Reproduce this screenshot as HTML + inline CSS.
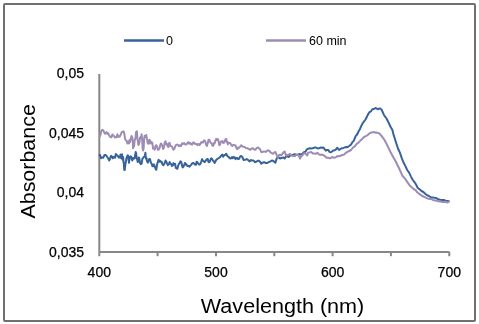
<!DOCTYPE html>
<html><head><meta charset="utf-8"><style>
html,body{margin:0;padding:0;background:#fff;width:479px;height:324px;overflow:hidden}
svg{display:block;filter:blur(0.3px)}
.lb text{stroke:#000;stroke-width:0.25px}
text{font-family:"Liberation Sans",sans-serif;fill:#000}
</style></head><body>
<svg width="479" height="324" viewBox="0 0 479 324">
<rect x="4" y="4" width="471" height="317" fill="#fff" stroke="#707070" stroke-width="2" rx="1"/>
<g stroke="#878787" stroke-width="2" fill="none">
<line x1="99.3" y1="74" x2="99.3" y2="252"/>
<line x1="99.3" y1="252" x2="449.5" y2="252"/>
<line x1="99.3" y1="252" x2="99.3" y2="256.2"/><line x1="157.6" y1="252" x2="157.6" y2="256.2"/><line x1="216.0" y1="252" x2="216.0" y2="256.2"/><line x1="274.3" y1="252" x2="274.3" y2="256.2"/><line x1="332.6" y1="252" x2="332.6" y2="256.2"/><line x1="390.9" y1="252" x2="390.9" y2="256.2"/><line x1="449.3" y1="252" x2="449.3" y2="256.2"/>
</g>
<polyline points="99.0,155.9 100.0,154.9 101.0,158.3 102.0,157.4 103.3,157.7 104.5,154.9 105.8,155.1 106.6,156.1 107.3,157.0 108.1,158.2 108.6,159.3 109.2,160.4 109.7,159.7 110.5,157.1 111.2,155.8 112.0,156.7 112.8,158.3 113.5,156.9 114.3,157.4 115.1,157.7 115.8,153.9 116.6,155.1 117.6,155.6 118.7,157.5 119.7,157.4 120.5,154.6 121.2,158.2 122.0,154.3 122.5,159.7 123.1,157.0 123.6,162.8 123.8,162.1 124.1,167.7 124.3,169.8 124.8,170.0 125.4,163.8 125.9,162.0 126.4,158.2 126.9,157.4 127.4,155.9 127.9,155.2 128.5,158.7 129.0,162.8 129.3,160.4 129.7,158.7 130.0,156.7 130.8,156.3 131.5,157.5 132.3,160.5 133.1,157.9 133.8,158.7 134.6,158.2 135.1,155.3 135.7,152.1 136.2,153.6 136.7,158.6 137.2,159.6 137.7,162.0 138.2,161.6 138.8,157.5 139.3,158.2 140.1,163.2 140.8,164.1 141.6,163.6 142.4,158.9 143.1,157.9 143.9,156.7 144.4,156.8 144.9,155.5 145.4,152.8 145.9,158.4 146.5,158.0 147.0,161.3 147.8,162.6 148.5,160.9 149.3,159.0 150.1,159.3 150.8,162.6 151.6,163.6 152.4,166.3 153.1,166.3 153.9,164.4 154.7,166.2 155.5,168.6 156.3,169.8 157.1,164.6 157.8,162.0 158.6,159.7 159.4,161.7 160.1,160.9 160.9,162.0 161.7,161.8 162.4,164.3 163.2,165.2 164.0,164.4 164.7,162.8 165.5,160.5 166.3,161.6 167.0,163.4 167.8,165.2 168.4,164.2 169.0,164.2 169.6,162.0 170.4,163.4 171.2,164.2 172.0,166.0 172.8,165.4 173.5,163.1 174.3,164.4 175.1,163.9 175.8,167.8 176.6,168.3 177.4,168.8 178.1,165.8 178.9,164.0 179.7,162.9 180.4,161.3 181.2,161.9 181.7,163.7 182.3,166.7 182.8,167.4 183.6,166.5 184.3,164.5 185.1,162.9 185.9,164.8 186.6,164.4 187.4,166.1 188.4,165.9 189.5,166.7 190.5,165.3 191.3,164.7 192.0,163.6 192.8,162.9 193.6,162.9 194.3,164.1 195.1,164.5 195.9,164.8 196.6,161.8 197.4,162.2 198.2,163.6 198.9,164.5 199.7,164.5 200.5,163.6 201.3,161.5 202.1,159.1 202.9,160.9 203.8,161.2 204.6,162.2 205.4,161.3 206.2,160.0 207.0,159.1 207.8,159.1 208.5,162.1 209.3,162.2 210.1,161.1 210.8,158.9 211.6,158.3 212.6,159.8 213.7,161.3 214.7,162.9 215.5,161.3 216.2,160.0 217.0,159.1 217.8,158.7 218.5,158.4 219.3,157.6 220.1,157.1 220.8,155.9 221.6,155.2 222.1,154.6 222.7,155.6 223.2,156.8 224.2,155.0 225.3,154.9 226.3,153.7 227.1,155.6 227.8,156.5 228.6,156.8 229.4,158.0 230.1,158.6 230.9,158.3 231.7,157.2 232.4,158.1 233.2,156.8 234.0,158.0 234.7,157.3 235.5,159.1 236.4,157.9 237.2,157.9 238.1,159.1 239.1,158.7 240.2,156.4 241.2,156.0 242.3,157.0 243.5,159.9 245.1,159.8 246.6,159.1 248.1,159.9 249.7,161.4 250.8,160.0 252.0,160.6 253.6,160.6 255.1,162.2 256.6,161.5 258.2,160.6 259.8,161.4 261.3,163.7 262.8,162.4 264.3,162.2 265.9,163.1 267.4,162.9 268.9,162.0 270.5,161.4 271.8,160.6 273.1,160.7 274.2,161.7 275.4,162.8 276.5,158.9 277.7,157.2 278.9,157.6 280.0,158.6 281.2,158.0 282.4,157.8 283.5,157.5 284.7,158.6 285.9,156.5 287.0,156.3 288.6,156.9 290.1,155.5 291.6,155.1 293.2,154.7 294.8,154.3 296.3,154.7 297.8,154.5 299.3,154.1 300.9,154.4 302.4,153.9 303.9,152.2 305.5,151.8 306.4,149.8 307.3,149.2 309.2,148.3 311.2,148.4 312.8,148.3 314.3,147.6 315.9,147.5 317.4,148.4 318.9,148.3 320.4,147.6 321.9,147.8 323.5,147.6 324.6,149.2 325.8,150.7 327.0,149.9 328.2,149.9 329.4,151.8 330.5,152.3 331.6,151.9 332.8,150.7 334.4,150.2 335.9,149.6 336.6,148.3 337.4,147.8 338.2,149.1 339.0,149.9 340.6,148.9 342.1,148.2 343.6,147.9 345.0,147.4 346.2,147.0 347.4,147.2 349.2,146.0 351.1,144.4 352.5,141.9 353.9,140.7 354.8,138.1 355.7,136.1 357.1,134.5 358.5,131.5 359.9,129.2 361.3,125.9 362.7,123.3 364.1,121.3 365.5,119.5 366.9,116.7 368.2,114.1 369.6,112.0 371.0,111.3 372.4,109.3 373.9,109.0 375.4,108.0 376.6,108.5 377.9,109.3 379.1,108.6 380.4,108.6 381.6,109.8 382.8,112.3 383.8,114.7 384.7,116.0 386.5,118.5 388.4,122.2 390.4,126.5 392.4,130.0 393.4,134.1 394.3,137.0 396.1,142.8 398.0,148.5 399.9,152.7 401.7,157.8 403.5,162.5 405.4,166.1 407.2,170.0 409.1,172.6 411.0,176.6 412.8,180.0 413.9,181.4 415.0,182.8 416.4,185.2 417.8,188.0 419.6,189.3 421.5,191.0 423.4,192.0 425.2,193.8 427.0,195.1 428.9,196.0 430.3,196.8 431.7,197.8 433.0,197.4 434.4,197.8 436.2,198.0 438.1,199.3 440.0,199.8 441.9,199.9 443.8,200.0 445.6,200.7 447.6,200.9 449.5,201.2" fill="none" stroke="#38639a" stroke-width="2" stroke-linejoin="round"/>
<polyline points="99.0,136.6 99.7,136.6 100.5,134.8 101.2,131.2 102.2,129.9 103.3,130.5 104.3,132.7 105.1,133.8 105.8,133.2 106.6,132.0 107.4,133.7 108.1,133.2 108.9,135.0 109.7,136.2 110.4,137.0 111.2,137.4 111.7,136.9 112.3,134.4 112.8,135.0 113.5,135.5 114.3,136.2 115.0,137.4 115.8,137.3 116.6,137.3 117.4,134.3 118.2,136.9 118.9,136.0 119.7,136.6 120.7,134.7 121.8,132.1 122.8,132.0 123.6,131.3 124.3,133.6 125.1,138.9 125.9,140.2 126.6,140.8 127.4,143.5 128.2,141.5 128.9,143.5 129.7,139.7 129.8,140.6 129.9,141.6 130.0,142.0 130.8,138.8 131.5,135.9 132.3,137.4 132.6,139.9 132.8,142.3 133.1,148.2 133.6,145.7 134.1,146.2 134.6,140.4 135.4,138.5 136.1,132.2 136.9,131.2 137.4,138.3 138.0,142.3 138.5,145.0 139.0,144.0 139.5,142.5 140.0,137.4 140.5,138.0 141.1,137.2 141.6,134.3 142.1,138.8 142.6,148.2 143.1,150.5 143.6,148.6 144.2,138.5 144.7,135.8 145.2,137.2 145.7,136.6 146.2,135.0 146.7,137.6 147.3,140.9 147.8,143.5 148.3,142.2 148.8,143.7 149.3,139.7 150.1,140.5 150.8,143.4 151.6,142.0 152.4,143.1 153.1,148.6 153.9,148.2 154.7,149.7 155.5,145.9 156.3,145.1 157.1,146.9 157.8,149.8 158.6,149.7 159.4,148.5 160.1,145.5 160.9,143.5 161.7,144.2 162.4,146.5 163.2,149.0 164.0,147.2 164.7,142.5 165.5,141.2 166.3,144.6 167.0,143.9 167.8,146.6 168.4,147.0 169.0,143.3 169.6,142.8 170.4,145.9 171.2,146.2 172.0,146.6 172.5,147.7 173.0,148.7 173.5,149.7 174.3,148.8 175.0,147.0 175.8,145.1 176.8,144.7 177.9,144.7 178.9,146.2 179.9,145.3 181.0,146.1 182.0,143.4 183.0,144.0 184.1,143.0 185.1,144.4 186.1,144.4 187.2,143.4 188.2,142.1 189.2,143.8 190.3,142.9 191.3,144.4 192.3,144.5 193.3,142.3 194.3,142.9 195.3,144.0 196.4,143.9 197.4,145.2 198.4,144.0 199.5,145.1 200.5,143.7 201.1,142.2 201.7,142.7 202.3,142.1 203.1,142.4 203.8,140.5 204.6,140.6 205.4,141.7 206.2,145.0 207.0,145.9 207.5,143.7 208.0,142.4 208.5,139.8 209.3,139.7 210.0,141.5 210.8,142.9 211.6,143.1 212.3,145.3 213.1,145.9 213.9,143.1 214.6,143.5 215.4,140.6 216.2,138.9 217.0,140.1 217.8,139.0 218.3,139.9 218.8,142.5 219.3,145.2 220.1,144.7 220.8,141.8 221.6,141.3 222.4,141.1 223.1,142.8 223.9,142.9 224.7,141.3 225.5,139.2 226.3,139.0 226.8,142.0 227.3,141.8 227.8,144.4 228.6,142.8 229.3,143.0 230.1,142.9 230.9,144.2 231.6,145.5 232.4,145.9 233.2,144.7 233.9,145.0 234.7,145.2 235.5,145.4 236.3,147.7 237.1,149.1 237.4,149.2 237.8,148.6 238.1,147.5 239.1,147.7 240.2,146.6 241.2,145.2 242.8,146.8 244.3,146.7 245.9,148.0 247.4,148.3 248.9,149.0 250.4,149.8 251.6,148.4 252.8,148.3 253.9,149.4 255.1,149.8 256.6,148.2 258.2,147.5 259.8,148.9 261.3,152.2 262.8,151.7 264.3,151.4 265.9,151.9 267.4,150.6 268.9,150.5 270.5,152.2 271.8,153.2 273.1,153.8 274.2,152.6 275.4,152.0 276.5,154.6 277.7,157.2 278.9,155.1 280.0,154.7 281.2,155.4 282.4,153.9 283.5,152.2 284.7,151.6 285.4,153.8 286.2,155.5 287.4,154.9 288.5,154.7 290.1,153.9 291.6,155.5 293.1,156.0 294.7,156.3 296.2,155.0 297.8,154.7 299.0,156.0 300.1,158.6 301.2,156.4 302.4,155.5 303.5,153.9 304.7,153.2 305.9,153.8 307.1,155.5 307.6,154.3 308.1,152.8 309.6,152.4 311.2,152.0 312.8,153.5 314.3,153.6 315.9,153.8 317.4,152.8 318.9,154.4 320.4,154.7 321.9,154.6 323.5,155.2 325.1,156.4 326.6,157.7 328.1,157.7 329.7,158.4 330.9,157.8 332.0,156.9 333.1,157.5 334.3,157.7 335.9,157.3 337.4,156.1 338.9,156.2 340.5,155.8 342.1,155.0 343.7,154.8 345.5,153.2 347.4,151.9 349.2,151.0 351.1,150.0 353.0,147.5 354.8,146.3 356.6,143.8 358.5,142.6 360.4,140.6 362.2,138.9 364.0,137.0 365.9,136.1 367.8,135.0 369.6,133.3 371.0,132.5 372.4,132.4 373.8,132.0 375.2,132.7 377.0,132.6 378.9,133.3 380.6,134.8 382.4,137.0 384.2,139.6 386.1,143.0 388.4,147.6 390.6,152.2 392.9,156.4 395.2,160.6 397.0,164.0 398.9,168.0 400.8,172.2 402.6,176.0 404.9,178.5 407.2,181.9 409.5,185.2 411.9,187.4 413.8,189.3 415.6,190.0 416.7,191.7 417.8,192.8 419.6,194.1 421.5,195.5 423.4,196.5 425.2,197.4 427.0,198.3 428.9,198.9 431.2,199.0 433.5,200.3 435.8,200.6 438.1,201.2 440.5,201.6 442.8,202.0 445.1,201.8 447.4,202.5 448.4,201.8 449.5,202.2" fill="none" stroke="#9d8cb3" stroke-width="2" stroke-linejoin="round"/>
<line x1="124" y1="40.5" x2="164" y2="40.5" stroke="#38639a" stroke-width="2.5"/>
<line x1="266" y1="40.5" x2="306" y2="40.5" stroke="#9d8cb3" stroke-width="2.5"/>
<text x="166" y="45" font-size="12.5">0</text>
<text x="309" y="45" font-size="12.5">60 min</text>
<g class="lb" font-size="14" text-anchor="end">
<text x="84" y="78">0,05</text>
<text x="84" y="137.5">0,045</text>
<text x="84" y="197">0,04</text>
<text x="84" y="256.5">0,035</text>
</g>
<g class="lb" font-size="14" text-anchor="middle">
<text x="99.3" y="276.5">400</text>
<text x="216" y="276.5">500</text>
<text x="332.6" y="276.5">600</text>
<text x="449.3" y="276.5">700</text>
</g>
<text x="200.8" y="312.5" font-size="20" textLength="163.5" lengthAdjust="spacingAndGlyphs">Wavelength (nm)</text>
<text transform="translate(35.2,218.6) rotate(-90)" font-size="20" textLength="114.5" lengthAdjust="spacingAndGlyphs">Absorbance</text>
</svg>
</body></html>
